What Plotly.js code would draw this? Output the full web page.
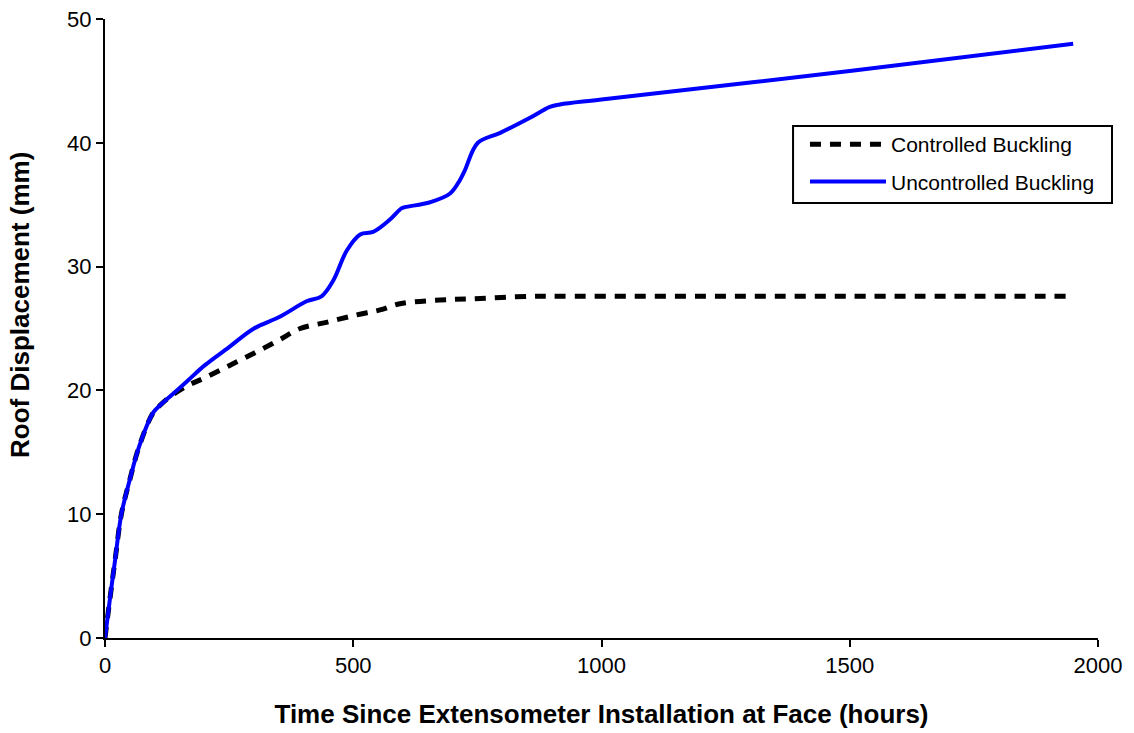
<!DOCTYPE html>
<html><head><meta charset="utf-8">
<script src="https://cdn.plot.ly/plotly-3.0.1.min.js"></script>
<style>html,body{margin:0;padding:0;background:#fff}#chart{width:1134px;height:733px}</style>
</head><body><div id="chart"></div>
<script>
const uncontrolledX = [0, 10, 20, 33, 50, 69, 97, 111, 131, 167, 200, 250, 300, 352, 406, 436, 460, 487, 514, 540, 574, 597, 604, 655, 695, 715, 725, 751, 796, 855, 896, 916, 1000, 1500, 1950];
const uncontrolledY = [0, 3.2, 6.2, 10, 12.8, 15.5, 18.2, 18.8, 19.5, 20.8, 22.0, 23.5, 25.0, 25.95, 27.2, 27.6, 28.9, 31.3, 32.6, 32.8, 33.8, 34.7, 34.8, 35.2, 35.9, 37.0, 37.8, 40.0, 40.8, 42.0, 42.9, 43.1, 43.5, 45.8, 48.0];
const controlledX = [0, 10, 20, 33, 50, 69, 97, 111, 131, 167, 200, 250, 300, 352, 393, 446, 507, 554, 594, 675, 742, 856, 920, 1200, 1500, 1950];
const controlledY = [0, 3.2, 6.2, 10, 12.8, 15.5, 18.2, 18.8, 19.5, 20.4, 21.0, 22.0, 23.0, 24.1, 25.0, 25.5, 26.1, 26.5, 27.0, 27.3, 27.4, 27.6, 27.6, 27.6, 27.6, 27.6];
const xTicks = [0, 500, 1000, 1500, 2000];
const yTicks = [0, 10, 20, 30, 40, 50];

const font = 'Liberation Sans, Arial, sans-serif';
const traces = [
  {x: controlledX, y: controlledY, mode: 'lines', name: 'Controlled Buckling', legendgroup: 'c',
   line: {color: '#000000', width: 5, dash: '11px,9px', shape: 'spline'}},
  {x: uncontrolledX, y: uncontrolledY, mode: 'lines', name: 'Uncontrolled Buckling', legendgroup: 'u',
   line: {color: '#0000ff', width: 4, shape: 'spline'}}
];
const layout = {
  width: 1134, height: 733,
  margin: {l: 105, r: 36, t: 19, b: 95},
  paper_bgcolor: '#ffffff', plot_bgcolor: '#ffffff',
  font: {family: font, color: '#000', size: 22},
  showlegend: true,
  legend: {x: 0.7049, y: 0.8304, xanchor: 'left', yanchor: 'top', bgcolor: 'rgba(0,0,0,0)',
           borderwidth: 0, font: {size: 21, family: font},
           itemwidth: 76, traceorder: 'grouped', tracegroupgap: 7},
  shapes: [{type: 'rect', xref: 'paper', yref: 'paper', x0: 0.6929, x1: 1.0141, y0: 0.7027, y1: 0.8271,
            line: {color: '#000', width: 2}, fillcolor: '#ffffff', layer: 'below'}],
  annotations: [{text: '<b>Roof Displacement (mm)</b>', xref: 'paper', yref: 'paper',
                 x: -0.0856, y: 0.538, xanchor: 'center', yanchor: 'middle', textangle: -90,
                 showarrow: false, font: {size: 26, family: font}}],
  xaxis: {range: [0, 2000], tickvals: xTicks, ticktext: xTicks.map(String),
          showgrid: false, zeroline: false, showline: true, linecolor: '#000', linewidth: 2,
          ticks: 'outside', ticklen: 7, tickwidth: 2, tickcolor: '#000',
          tickfont: {size: 22, family: font},
          title: {text: '<b>Time Since Extensometer Installation at Face (hours)</b>', font: {size: 26, family: font}, standoff: 27}},
  yaxis: {range: [0, 50], tickvals: yTicks, ticktext: yTicks.map(String),
          showgrid: false, zeroline: false, showline: true, linecolor: '#000', linewidth: 2,
          ticks: 'outside', ticklen: 7, tickwidth: 2, tickcolor: '#000',
          tickfont: {size: 22, family: font}}
};
Plotly.newPlot('chart', traces, layout, {displayModeBar: false, staticPlot: true});
</script></body></html>
